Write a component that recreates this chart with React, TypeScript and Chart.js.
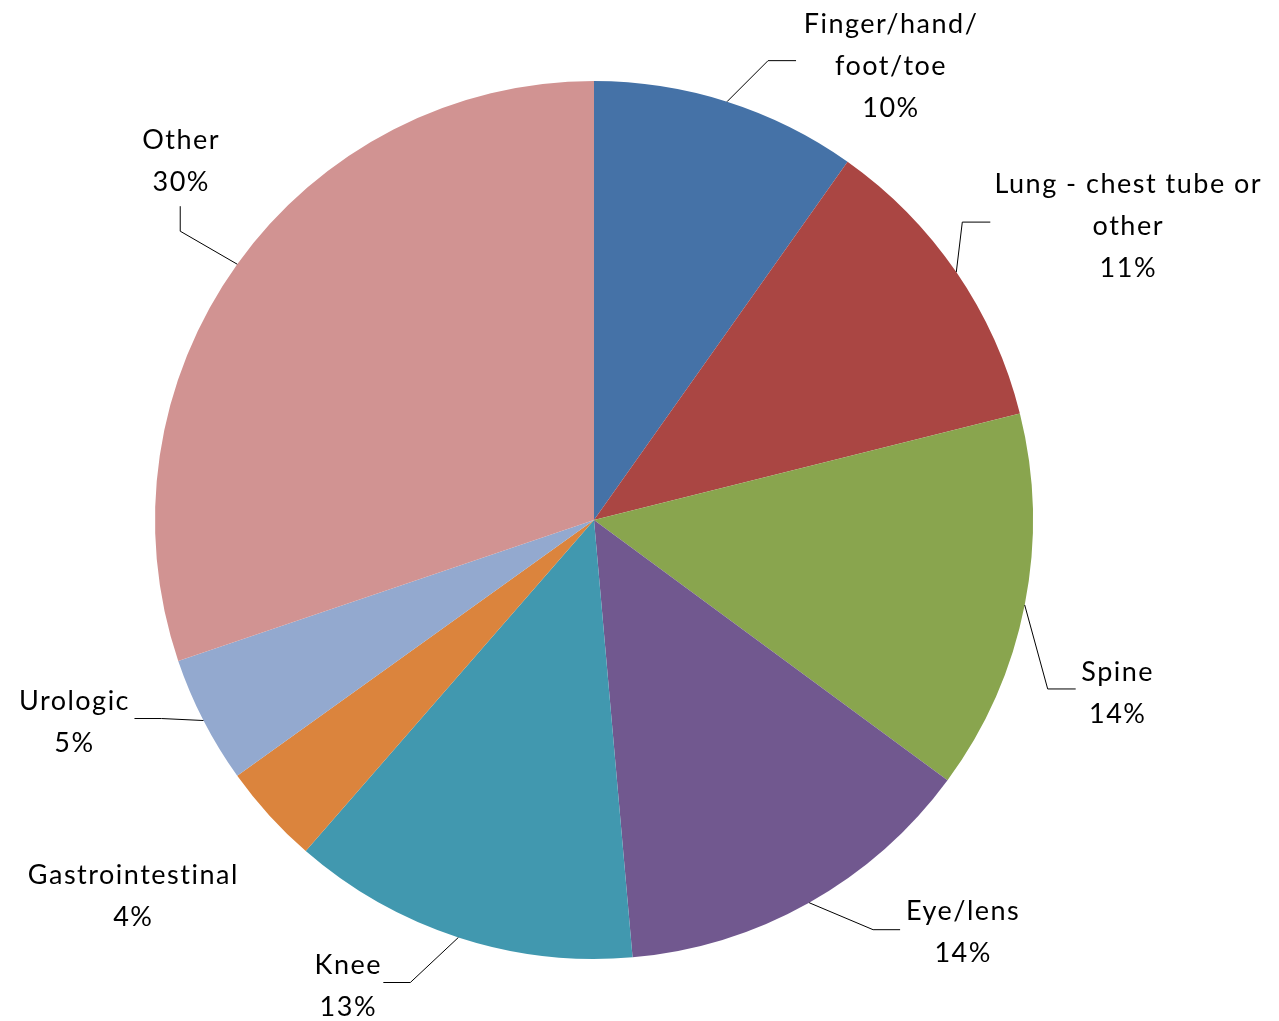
import React, { useEffect, useRef } from "react";
import { Chart, registerables } from "chart.js";

Chart.register(...registerables);

const categories = [
  ["Finger/hand/", "foot/toe"],
  ["Lung - chest tube or", "other"],
  ["Spine"],
  ["Eye/lens"],
  ["Knee"],
  ["Gastrointestinal"],
  ["Urologic"],
  ["Other"],
];
const values = [9.8, 11.3, 14.0, 13.5, 12.8, 3.7, 4.7, 30.2];
const percentLabels = ["10%", "11%", "14%", "14%", "13%", "4%", "5%", "30%"];
const colors = ["#4572A7", "#AA4643", "#89A54E", "#71588F", "#4198AF", "#DB843D", "#93A9CF", "#D19392"];

// label layout: offsets relative to the slice's outer-edge midpoint
type Layout = { line: number[][] | null; tx: number; ty: number };
const labelLayout: Layout[] = [
  { line: [[41, -41], [69, -41]], tx: 164, ty: -77 },
  { line: [[6, -50], [34, -50]], tx: 172, ty: -88 },
  { line: [[23, 84], [51, 84]], tx: 93, ty: 67 },
  { line: [[64, 27], [91, 27]], tx: 154, ty: 9 },
  { line: [[-48, 45], [-75, 45]], tx: -110, ty: 28 },
  { line: null, tx: -136, ty: 60 },
  { line: [[-42, -2], [-69, -2]], tx: -129, ty: -19 },
  { line: [[-57, -33], [-57, -58]], tx: -56, ty: -124 },
];

const FONT = "27px Lato";
const LINE_H = 42;

const labelPlugin = {
  id: "outsideLabels",
  afterDraw(chart: any) {
    const ctx = chart.ctx;
    const meta = chart.getDatasetMeta(0);
    ctx.save();
    ctx.font = FONT;
    (ctx as any).letterSpacing = "1.5px";
    ctx.fillStyle = "#000";
    ctx.textAlign = "center";
    ctx.textBaseline = "middle";
    meta.data.forEach((arc: any, i: number) => {
      const p = arc.getProps(["x", "y", "startAngle", "endAngle", "outerRadius"], true);
      const mid = (p.startAngle + p.endAngle) / 2;
      const ax = p.x + Math.cos(mid) * p.outerRadius;
      const ay = p.y + Math.sin(mid) * p.outerRadius;
      const lay = labelLayout[i];
      if (lay.line) {
        ctx.beginPath();
        ctx.strokeStyle = "#000";
        ctx.lineWidth = 1;
        ctx.moveTo(ax, ay);
        lay.line.forEach((pt) => ctx.lineTo(ax + pt[0], ay + pt[1]));
        ctx.stroke();
      }
      const lines = [...categories[i], percentLabels[i]];
      lines.forEach((t, k) => {
        ctx.fillText(t, ax + lay.tx, ay + lay.ty + k * LINE_H);
      });
    });
    ctx.restore();
  },
};

export default function App() {
  const ref = useRef<HTMLCanvasElement | null>(null);
  useEffect(() => {
    if (!ref.current) return;
    const chart = new Chart(ref.current, {
      type: "pie",
      data: {
        labels: categories.map((c) => c.join(" ")),
        datasets: [
          {
            data: values,
            backgroundColor: colors,
            borderWidth: 0,
          },
        ],
      },
      options: {
        responsive: false,
        animation: false,
        layout: { padding: { left: 155, right: 246, top: 81, bottom: 62 } },
        plugins: {
          legend: { display: false },
          tooltip: { enabled: false },
        },
      },
      plugins: [labelPlugin],
    });
    return () => chart.destroy();
  }, []);
  return (
    <div style={{ position: "fixed", left: 0, top: 0, width: 1279, height: 1021, background: "#fff" }}>
      <canvas ref={ref} width={1279} height={1021} />
    </div>
  );
}
